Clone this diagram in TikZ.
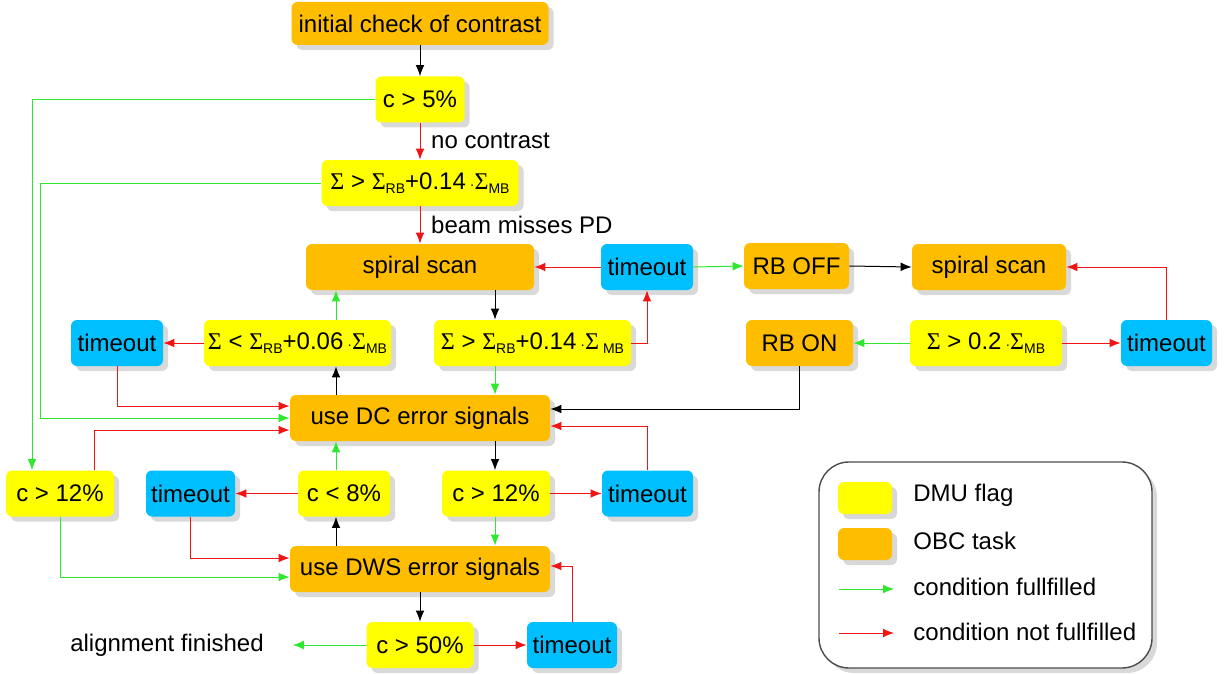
\documentclass[tikz,border=0pt]{standalone}
\usepackage{fontspec}
\setmainfont{Liberation Sans}
\newfontfamily\sigmafont{Liberation Serif}
\usetikzlibrary{%
    arrows.meta,
    calc,
    positioning,
    shadows
}
\definecolor{flagyellow}{HTML}{FFFF00}
\definecolor{taskorange}{HTML}{FFBD00}
\definecolor{timerblue}{HTML}{00BFFF}
\definecolor{okgreen}{HTML}{2EE82E}
\definecolor{nogored}{HTML}{F21414}
\tikzset{headarrow/.style = {-{Latex[length=5.5pt,width=4.4pt]}, line width=.5pt}}
\tikzset{boxshadow/.style = {drop shadow={shadow xshift=2.5pt, shadow yshift=-2.5pt,
                                          fill=black!60, opacity=.25}}}
\tikzset{box/.style = {rounded corners=3pt, minimum height=23pt, inner sep=2pt, boxshadow}}
\tikzset{flag/.style = {box, fill=flagyellow}}
\tikzset{task/.style = {box, fill=taskorange}}
\tikzset{timer/.style = {box, fill=timerblue}}
\newcommand{\Sig}{{\sigmafont Σ}}
\newcommand{\subtxt}[1]{\raisebox{-.35ex}{\fontsize{7}{8}\selectfont #1}}
\newcommand{\smalldot}{\,{\fontsize{7}{8}\selectfont ·}}

\begin{document}
\begin{tikzpicture}[x=.5pt, y=-.5pt, font=\fontsize{12}{14}\selectfont]
    \useasboundingbox (0,0) rectangle (1225,674);

    % main column
    \node (init) [task, minimum width=128.5pt, minimum height=21.5pt] at (420,23.5) {initial check of contrast};
    \node (c5) [flag, minimum width=44.5pt] at (420,99.5) {c > 5\%};
    \node (sigma1) [flag, minimum width=98.5pt] at (420,183)
        {\Sig{} > \Sig\subtxt{RB}+0.14\smalldot\Sig\subtxt{MB}};
    \node (spiral1) [task, minimum width=114pt] at (420,267) {spiral scan};
    \node (to1) [timer, minimum width=46pt] at (647,267) {timeout};
    \node (rboff) [task, minimum width=52.5pt] at (796.5,266) {RB OFF};
    \node (spiral2) [task, minimum width=77pt] at (989,267) {spiral scan};

    \node (toL) [timer, minimum width=46pt] at (117,343) {timeout};
    \node (sigless) [flag, minimum width=90.5pt] at (297.5,343)
        {\Sig{} < \Sig\subtxt{RB}+0.06\smalldot\Sig\subtxt{MB}};
    \node (sigma2) [flag, minimum width=98.5pt] at (532.5,343)
        {\Sig{} > \Sig\subtxt{RB}+0.14\smalldot\Sig\,\subtxt{MB}};
    \node (rbon) [task, minimum width=53.5pt] at (799.5,343) {RB ON};
    \node (sigma3) [flag, minimum width=76pt] at (986,343)
        {\Sig{} > 0.2\smalldot\Sig\subtxt{MB}};
    \node (toR) [timer, minimum width=45.5pt] at (1166.5,343) {timeout};

    \node (dc) [task, minimum width=130pt] at (420,418) {use DC error signals};

    \node (c12a) [flag, minimum width=54pt] at (60,493.5) {c > 12\%};
    \node (to2) [timer, minimum width=44.5pt] at (190.5,493.5) {timeout};
    \node (c8) [flag, minimum width=46pt] at (344,493.5) {c < 8\%};
    \node (c12b) [flag, minimum width=54pt] at (496,493.5) {c > 12\%};
    \node (to3) [timer, minimum width=45.5pt] at (647.5,493.5) {timeout};

    \node (dws) [task, minimum width=130pt] at (420,569) {use DWS error signals};
    \node (c50) [flag, minimum width=53.5pt] at (420,645) {c > 50\%};
    \node (to4) [timer, minimum width=45pt] at (572,645) {timeout};
    \node (done) at (167,645) {alignment finished};

    % straight connectors
    \foreach \Source/\Target/\Color in {%
        init.south/c5.north/black,
        to1.west/spiral1.east/nogored,
        to1.east/rboff.west/okgreen,
        rboff.east/spiral2.west/black,
        sigless.west/toL.east/nogored,
        sigma3.west/rbon.east/okgreen,
        sigma3.east/toR.west/nogored,
        c8.west/to2.east/nogored,
        c12b.east/to3.west/nogored,
        dws.south/c50.north/black,
        c50.east/to4.west/nogored%
    }
        \draw[headarrow,\Color] (\Source) -- (\Target);
    \draw[headarrow,okgreen] (c50.west) -- ([xshift=11pt]done.east);

    \draw[headarrow,nogored] (c5.south) -- node[right=2pt, text=black] {no contrast} (sigma1.north);
    \draw[headarrow,nogored] (sigma1.south) -- node[right=2pt, text=black] {beam misses PD} (spiral1.north);

    % vertical links between the rows
    \coordinate (colL) at (336,0);
    \coordinate (colR) at (495,0);
    \draw[headarrow] (spiral1.south -| colR) -- (sigma2.north -| colR);
    \draw[headarrow,okgreen] (sigma2.south -| colR) -- (dc.north -| colR);
    \draw[headarrow] (dc.south -| colR) -- (c12b.north -| colR);
    \draw[headarrow,okgreen] (c12b.south -| colR) -- (dws.north -| colR);
    \draw[headarrow] (dc.north -| colL) -- (sigless.south -| colL);
    \draw[headarrow,okgreen] (sigless.north -| colL) -- (spiral1.south -| colL);
    \draw[headarrow] (dws.north -| colL) -- (c8.south -| colL);
    \draw[headarrow,okgreen] (c8.north -| colL) -- (dc.south -| colL);

    % elbow connectors
    \coordinate (dcbend) at (40,418);
    \draw[headarrow,okgreen] (c5.west) -| ([xshift=-14pt]c12a.north);
    \draw[headarrow,okgreen] (sigma1.west) -| (dcbend) -- (dc.west);
    \draw[headarrow,nogored] (toL.south) |- ([yshift=6pt]dc.west);
    \draw[headarrow,nogored] ([xshift=17pt]c12a.north) |- ([yshift=-6pt]dc.west);
    \draw[headarrow] (rbon.south) |- ([yshift=4.5pt]dc.east);
    \draw[headarrow,nogored] (to3.north) |- ([yshift=-4pt]dc.east);
    \draw[headarrow,nogored] (sigma2.east) -| (to1.south);
    \draw[headarrow,nogored] (toR.north) |- (spiral2.east);
    \draw[headarrow,nogored] (to2.south) |- ([yshift=5.5pt]dws.west);
    \draw[headarrow,okgreen] (c12a.south) |- ([yshift=-4pt]dws.west);
    \draw[headarrow,nogored] (to4.north) |- ([yshift=1.5pt]dws.east);

    % legend
    \node (legend) [draw=black!70, line width=.7pt, rounded corners=15pt, fill=white, boxshadow,
                    minimum width=166.5pt, minimum height=103pt] at (985.5,565) {};
    \node (keyflag) [flag, minimum width=27pt, minimum height=16pt] at (865,498) {};
    \node (keytask) [task, minimum width=27pt, minimum height=16pt] at (865,544) {};
    \coordinate (okstart) at (839,589);
    \coordinate (okend) at (894,589);
    \coordinate (nogostart) at (839,633);
    \coordinate (nogoend) at (894,633);
    \draw[headarrow,okgreen] (okstart) -- (okend);
    \draw[headarrow,nogored] (nogostart) -- (nogoend);
    \node (keyflagtext) [anchor=west, inner sep=0pt] at (913,495) {DMU flag};
    \node (keytasktext) [anchor=west, inner sep=0pt] at (913,541) {OBC task};
    \node (oktext) [anchor=west, inner sep=0pt] at (913,587) {condition fullfilled};
    \node (nogotext) [anchor=west, inner sep=0pt] at (913,632) {condition not fullfilled};
\end{tikzpicture}
\end{document}
